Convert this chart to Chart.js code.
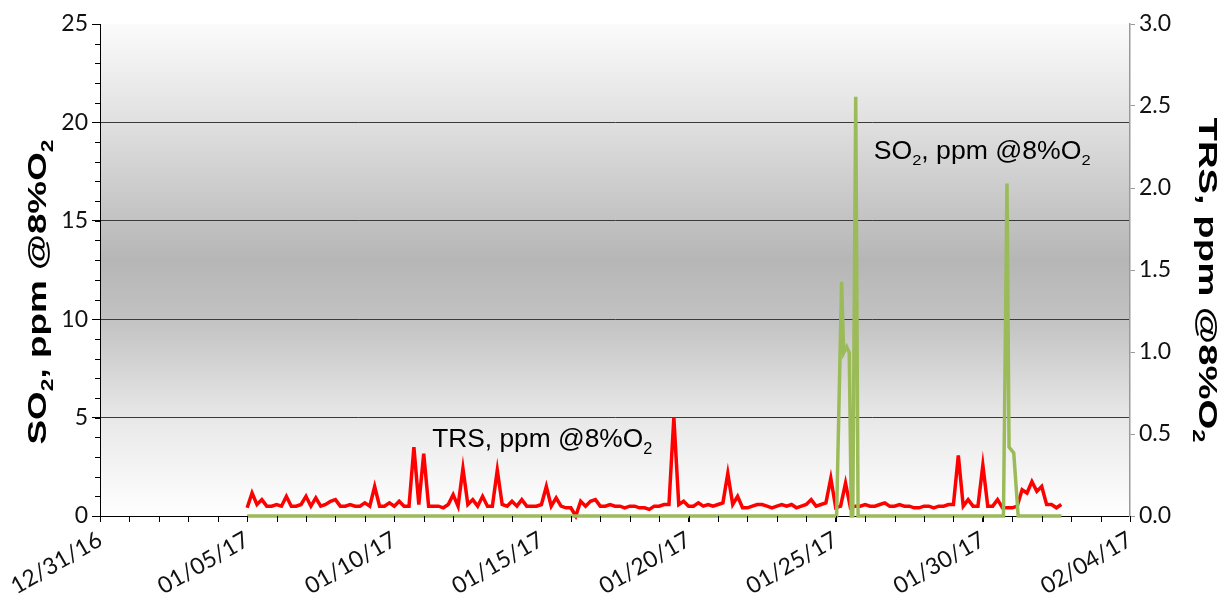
<!DOCTYPE html>
<html>
<head>
<meta charset="utf-8">
<script src="https://cdn.jsdelivr.net/npm/chart.js@4.4.1/dist/chart.umd.min.js"></script>
<style>
  html, body { margin: 0; padding: 0; background: #fff; }
</style>
</head>
<body>
<canvas id="emissionsChart" width="1232" height="600"></canvas>
<script>
// x axis is "days since 12/31/16"
const xTickLabels = ['12/31/16', '01/05/17', '01/10/17', '01/15/17', '01/20/17', '01/25/17', '01/30/17', '02/04/17'];

// TRS, 4-hour readings starting 01/05/17 00:00 (right axis)
const trsStartDay = 5;
const trsStepDays = 1 / 6;
const trsValues = [
  0.05, 0.14, 0.07, 0.10, 0.06, 0.06, 0.07, 0.06, 0.12, 0.06,
  0.06, 0.07, 0.12, 0.06, 0.11, 0.06, 0.07, 0.09, 0.10, 0.06,
  0.06, 0.07, 0.06, 0.06, 0.08, 0.06, 0.18, 0.06, 0.06, 0.08,
  0.06, 0.09, 0.06, 0.06, 0.42, 0.07, 0.38, 0.06, 0.06, 0.06,
  0.05, 0.07, 0.13, 0.06, 0.29, 0.07, 0.10, 0.06, 0.12, 0.06,
  0.06, 0.28, 0.07, 0.06, 0.09, 0.06, 0.10, 0.06, 0.06, 0.06,
  0.07, 0.18, 0.06, 0.11, 0.06, 0.05, 0.05, 0.00, 0.09, 0.06,
  0.09, 0.10, 0.06, 0.06, 0.07, 0.06, 0.06, 0.05, 0.06, 0.06,
  0.05, 0.05, 0.04, 0.06, 0.06, 0.07, 0.07, 0.60, 0.07, 0.09,
  0.06, 0.06, 0.08, 0.06, 0.07, 0.06, 0.07, 0.08, 0.26, 0.07,
  0.12, 0.05, 0.05, 0.06, 0.07, 0.07, 0.06, 0.05, 0.06, 0.07,
  0.06, 0.07, 0.05, 0.06, 0.07, 0.10, 0.06, 0.07, 0.08, 0.23,
  0.05, 0.06, 0.20, 0.05, 0.06, 0.06, 0.07, 0.06, 0.06, 0.07,
  0.08, 0.06, 0.06, 0.07, 0.06, 0.06, 0.05, 0.05, 0.06, 0.06,
  0.05, 0.06, 0.06, 0.07, 0.07, 0.37, 0.06, 0.10, 0.06, 0.06,
  0.31, 0.06, 0.06, 0.10, 0.05, 0.05, 0.05, 0.06, 0.16, 0.14,
  0.21, 0.15, 0.18, 0.07, 0.07, 0.05, 0.07
];

// SO2 (left axis), zero except for the events
const so2Days   = [5.00, 25.03, 25.20, 25.27, 25.37, 25.46, 25.53, 25.58, 25.68, 25.76, 30.70, 30.82, 30.89, 31.05, 31.20, 32.67];
const so2Values = [0,    0,     11.9,  8.3,   8.6,   8.3,   0,     0,     21.3,  0,     0,     16.9,  3.5,   3.2,   0,     0];

const so2Gridlines = [5, 10, 15, 20];

const trsPoints = trsValues.map((v, i) => ({ x: trsStartDay + i * trsStepDays, y: v }));
const so2Points = so2Days.map((d, i) => ({ x: d, y: so2Values[i] }));

const so2Label = [{ text: 'SO' }, { text: '2', sub: true }, { text: ', ppm @8%O' }, { text: '2', sub: true }];
const trsLabel = [{ text: 'TRS, ppm @8%O' }, { text: '2', sub: true }];

function drawRichText(ctx, parts, o) {
  const subSize = o.size * 0.62;
  const fontFor = p => `${o.weight} ${p.sub ? subSize : o.size}px ${o.family}`;
  let natural = 0;
  const widths = parts.map(p => {
    ctx.font = fontFor(p);
    const w = ctx.measureText(p.text).width;
    natural += w;
    return w;
  });
  const stretch = o.length ? o.length / natural : 1;
  ctx.save();
  ctx.translate(o.x, o.y);
  ctx.rotate(o.angle || 0);
  ctx.scale(stretch, 1);
  ctx.fillStyle = '#000';
  ctx.textAlign = 'left';
  ctx.textBaseline = 'alphabetic';
  let cx = o.align === 'center' ? -natural / 2 : 0;
  parts.forEach((p, i) => {
    ctx.font = fontFor(p);
    ctx.fillText(p.text, cx, p.sub ? o.size * 0.25 : 0);
    cx += widths[i];
  });
  ctx.restore();
}

const plotBackground = {
  id: 'plotBackground',
  beforeDraw(chart) {
    const { ctx, chartArea: a } = chart;
    const g = ctx.createLinearGradient(0, a.top, 0, a.bottom);
    g.addColorStop(0, '#fbfbfb');
    g.addColorStop(0.2, '#e0e0e0');
    g.addColorStop(0.48, '#b6b6b6');
    g.addColorStop(0.6, '#c2c2c2');
    g.addColorStop(0.8, '#e8e8e8');
    g.addColorStop(1, '#ffffff');
    ctx.save();
    ctx.fillStyle = g;
    ctx.fillRect(a.left, a.top, a.right - a.left, a.bottom - a.top);
    ctx.restore();
  }
};

const decorations = {
  id: 'decorations',
  afterDraw(chart) {
    const { ctx, chartArea: a, scales } = chart;
    // minor ticks: every day on x, every unit on the SO2 axis
    ctx.save();
    ctx.strokeStyle = '#000';
    ctx.lineWidth = 1;
    ctx.beginPath();
    for (let d = 0; d <= 35; d++) {
      const x = Math.round(scales.x.getPixelForValue(d)) + 0.5;
      ctx.moveTo(x, a.bottom);
      ctx.lineTo(x, a.bottom + 6);
    }
    for (let v = 0; v <= 25; v++) {
      const y = Math.round(scales.ySO2.getPixelForValue(v)) + 0.5;
      ctx.moveTo(a.left - 5, y);
      ctx.lineTo(a.left, y);
    }
    ctx.stroke();
    ctx.restore();

    // axis titles
    drawRichText(ctx, so2Label, { x: 46, y: 292, angle: -Math.PI / 2, size: 26, weight: 'bold', family: '"Liberation Sans", Arial', length: 305, align: 'center' });
    drawRichText(ctx, trsLabel, { x: 1199, y: 280, angle: Math.PI / 2, size: 26, weight: 'bold', family: '"Liberation Sans", Arial', length: 325, align: 'center' });

    // series labels inside the plot
    drawRichText(ctx, trsLabel, { x: scales.x.getPixelForValue(11.29), y: scales.ySO2.getPixelForValue(3.5), size: 26, weight: 'normal', family: '"Liberation Sans", Arial', length: 220 });
    drawRichText(ctx, so2Label, { x: scales.x.getPixelForValue(26.29), y: scales.ySO2.getPixelForValue(18.14), size: 25, weight: 'normal', family: '"Liberation Sans", Arial', length: 217 });
  }
};

Chart.defaults.font.family = 'Lato, "Liberation Sans", sans-serif';
Chart.defaults.font.size = 23;
Chart.defaults.color = '#111';

const ctx = document.getElementById('emissionsChart').getContext('2d');
const chart = new Chart(ctx, {
  type: 'line',
  data: {
    datasets: [
      {
        label: 'SO2, ppm @8%O2',
        data: so2Points,
        yAxisID: 'ySO2',
        borderColor: '#9bbb59',
        borderWidth: 3.5,
        pointRadius: 0,
        tension: 0,
        clip: 6
      },
      {
        label: 'TRS, ppm @8%O2',
        data: trsPoints,
        yAxisID: 'yTRS',
        borderColor: '#ff0000',
        borderWidth: 3.5,
        pointRadius: 0,
        tension: 0,
        clip: 6
      }
    ]
  },
  options: {
    responsive: false,
    animation: false,
    devicePixelRatio: 1,
    layout: { padding: { top: 24, left: 0, right: 0, bottom: 0 } },
    plugins: {
      legend: { display: false },
      tooltip: { enabled: false }
    },
    scales: {
      x: {
        type: 'linear',
        min: 0,
        max: 35,
        ticks: {
          stepSize: 5,
          minRotation: 30,
          maxRotation: 30,
          padding: 4,
          callback: v => xTickLabels[Math.round(v / 5)]
        },
        grid: { drawOnChartArea: false, tickLength: 6, tickColor: '#000' },
        border: { color: '#000', width: 1 },
        afterFit: s => { s.height = 84; }
      },
      ySO2: {
        position: 'left',
        min: 0,
        max: 25,
        ticks: { stepSize: 5, padding: 4 },
        grid: {
          color: c => so2Gridlines.includes(c.tick && c.tick.value) ? '#3a3a3a' : 'rgba(0,0,0,0)',
          tickColor: '#000',
          tickLength: 8
        },
        border: { color: '#000', width: 1 },
        afterFit: s => { s.width = 100; }
      },
      yTRS: {
        position: 'right',
        min: 0,
        max: 3,
        ticks: { stepSize: 0.5, padding: 4, callback: v => v.toFixed(1) },
        grid: { drawOnChartArea: false, tickLength: 5, tickColor: '#9a9a9a' },
        border: { color: '#9a9a9a', width: 1.5 },
        afterFit: s => { s.width = 102; }
      }
    }
  },
  plugins: [plotBackground, decorations]
});
</script>
</body>
</html>
